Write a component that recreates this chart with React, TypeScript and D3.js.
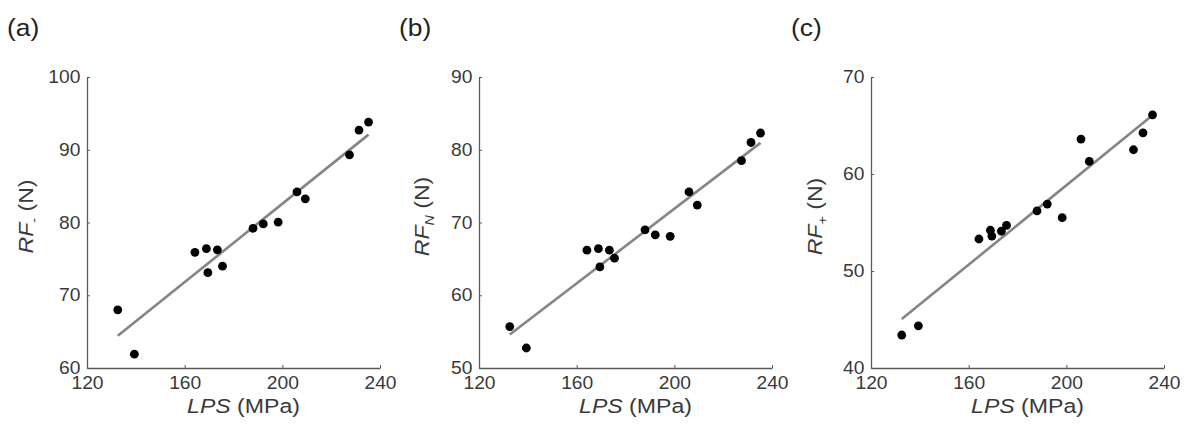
import React, { useEffect, useRef } from 'react';
import * as d3 from 'd3';

// LPS (MPa) of the 15 specimens, shared by all three panels
const lps = [132.6, 139.4, 164.2, 168.9, 173.4, 169.5, 175.5, 188.0, 192.2, 198.3, 206.0, 209.4, 227.5, 231.4, 235.3];
// reaction forces (N)
const rfMinus = [68.0, 61.9, 75.9, 76.4, 76.25, 73.1, 74.0, 79.2, 79.8, 80.05, 84.2, 83.25, 89.3, 92.7, 93.8];
const rfN = [55.7, 52.75, 66.2, 66.4, 66.2, 63.9, 65.1, 69.0, 68.3, 68.1, 74.2, 72.4, 78.5, 81.0, 82.3];
const rfPlus = [43.4, 44.35, 53.3, 54.2, 54.1, 53.6, 54.7, 56.2, 56.9, 55.5, 63.6, 61.3, 62.5, 64.25, 66.1];

const xTicks = [120, 160, 200, 240];
const yTicksA = [60, 70, 80, 90, 100];
const yTicksB = [50, 60, 70, 80, 90];
const yTicksC = [40, 50, 60, 70];

const tags = ['(a)', '(b)', '(c)'];
const subs = ['-', 'N', '+'];

const panels = [
    { tag: tags[0], sub: subs[0], subItalic: false, values: rfMinus, ticks: yTicksA },
    { tag: tags[1], sub: subs[1], subItalic: true, values: rfN, ticks: yTicksB },
    { tag: tags[2], sub: subs[2], subItalic: false, values: rfPlus, ticks: yTicksC },
];

const App = () => {
    const ref = useRef<SVGSVGElement | null>(null);

    useEffect(() => {
        const width = 1186;
        const height = 437;
        const lefts = [87, 479, 871];
        const plotW = 293;
        const plotH = 291;
        const top = 77;
        const sx = 1.1; // the figure's font runs wide
        const font = '"Liberation Sans", Arial, Helvetica, sans-serif';
        const axisColor = '#5a5a5a';
        const textColor = '#3a3a3a';
        const yLabelOffsets = [54, 50, 49];

        const svg = d3.select(ref.current)
            .attr('width', width)
            .attr('height', height);
        svg.selectAll('*').remove();

        svg.append('rect')
            .attr('width', width)
            .attr('height', height)
            .attr('fill', '#fff');

        panels.forEach((p, i) => {
            const left = lefts[i];
            const x = d3.scaleLinear()
                .domain([120, 240])
                .range([left, left + plotW]);
            const y = d3.scaleLinear()
                .domain([p.ticks[0], p.ticks[p.ticks.length - 1]])
                .range([top + plotH, top]);

            const g = svg.append('g');

            // panel tag
            g.append('text')
                .attr('transform', `translate(${left - 80},36) scale(${sx},1)`)
                .attr('font-family', font)
                .attr('font-size', 24)
                .attr('fill', '#222')
                .text(p.tag);

            const styleAxis = (a: d3.Selection<SVGGElement, unknown, null, undefined>) => {
                a.attr('font-family', font).attr('font-size', 17.5);
                a.select('.domain').attr('stroke', axisColor).attr('stroke-width', 1.3);
                a.selectAll('.tick line').attr('stroke', axisColor).attr('stroke-width', 1);
                a.selectAll('.tick text').attr('fill', textColor);
            };

            const xAxis = g.append('g')
                .attr('transform', `translate(0,${top + plotH})`)
                .call(d3.axisBottom(x)
                    .tickValues(xTicks)
                    .tickSizeInner(-3)
                    .tickSizeOuter(0)
                    .tickPadding(9)
                    .tickFormat(d3.format('d')));
            styleAxis(xAxis);
            xAxis.selectAll('.tick text').attr('transform', `scale(${sx},1)`);

            const yAxis = g.append('g')
                .attr('transform', `translate(${left},0)`)
                .call(d3.axisLeft(y)
                    .tickValues(p.ticks)
                    .tickSizeInner(-3)
                    .tickSizeOuter(0)
                    .tickPadding(6)
                    .tickFormat(d3.format('d')));
            styleAxis(yAxis);
            yAxis.selectAll('.tick text').attr('transform', `scale(${sx},1)`);

            // least-squares fit
            const mx = d3.mean(lps) as number;
            const my = d3.mean(p.values) as number;
            const sxy = d3.sum(lps, (v, k) => (v - mx) * (p.values[k] - my));
            const sxx = d3.sum(lps, v => (v - mx) * (v - mx));
            const slope = sxy / sxx;
            const [x0, x1] = d3.extent(lps) as [number, number];
            const fit = [x0, x1].map(v => [v, my + slope * (v - mx)] as [number, number]);

            g.append('path')
                .attr('d', d3.line<[number, number]>()
                    .x(d => x(d[0]))
                    .y(d => y(d[1]))(fit))
                .attr('stroke', '#858585')
                .attr('stroke-width', 2.6)
                .attr('fill', 'none');

            g.append('g')
                .selectAll('circle')
                .data(lps)
                .join('circle')
                    .attr('cx', d => x(d))
                    .attr('cy', (d, k) => y(p.values[k]))
                    .attr('r', 4.4)
                    .attr('fill', '#000');

            // x label
            const xl = g.append('text')
                .attr('transform', `translate(${left + plotW / 2 + 10},413) scale(${sx},1)`)
                .attr('text-anchor', 'middle')
                .attr('font-family', font)
                .attr('font-size', 21)
                .attr('fill', textColor);
            xl.append('tspan').attr('font-style', 'italic').text('LPS');
            xl.append('tspan').text(' (MPa)');

            // y label
            const yl = g.append('text')
                .attr('transform', `translate(${left - yLabelOffsets[i]},${top + plotH / 2 - 6}) rotate(-90) scale(${sx},1)`)
                .attr('text-anchor', 'middle')
                .attr('font-family', font)
                .attr('font-size', 21)
                .attr('fill', textColor);
            yl.append('tspan').attr('font-style', 'italic').text('RF');
            yl.append('tspan')
                .attr('font-size', 13)
                .attr('font-style', p.subItalic ? 'italic' : 'normal')
                .attr('dy', 5)
                .text(p.sub);
            yl.append('tspan').attr('dy', -5).text(' (N)');
        });
    }, []);

    return (
        <svg ref={ref} style={{ position: 'absolute', left: 0, top: 0, display: 'block' }} />
    );
};

export default App;
